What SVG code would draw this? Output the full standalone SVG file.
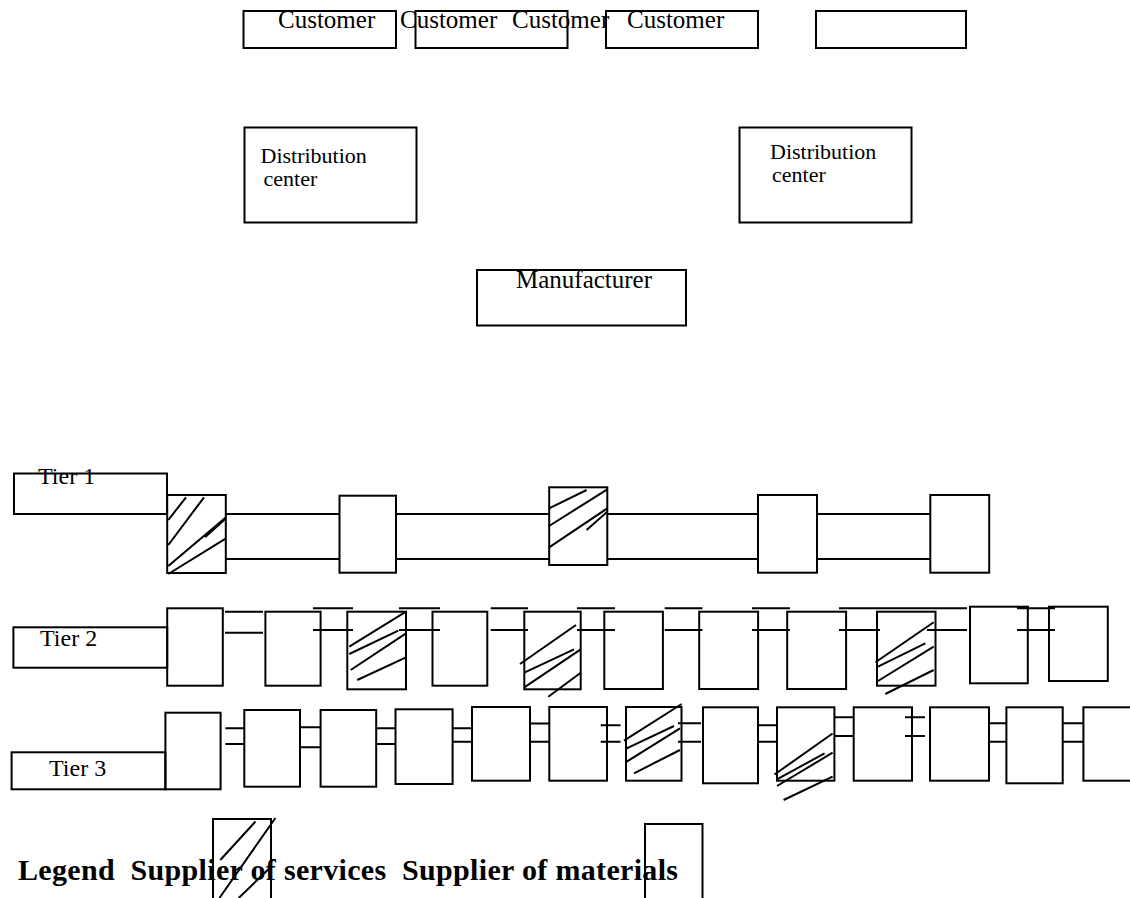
<svg xmlns="http://www.w3.org/2000/svg" width="1130" height="898" viewBox="0 0 1130 898">
<style>
.b{fill:none;stroke:#000;stroke-width:2}
.l{stroke:#000;stroke-width:2;fill:none}
.t{font-family:"Liberation Serif","Times New Roman",serif;font-size:24px;fill:#000}
.lg{font-family:"Liberation Serif","Times New Roman",serif;font-size:30px;font-weight:bold;fill:#000;white-space:pre}
</style>
<rect width="1130" height="898" fill="#fff"/>
<g id="customers">
<g id="customer1"><rect class="b" x="243.5" y="11" width="152.5" height="37"/></g>
<g id="customer2"><rect class="b" x="415.5" y="11" width="152" height="37"/></g>
<g id="customer3"><rect class="b" x="606" y="11" width="152" height="37"/></g>
<g id="customer5"><rect class="b" x="816" y="11" width="150" height="37"/></g>
<text class="t" style="font-size:25px" x="278" y="28">Customer</text>
<text class="t" style="font-size:25px" x="400" y="28">Customer</text>
<text class="t" style="font-size:25px" x="512" y="28">Customer</text>
<text class="t" style="font-size:25px" x="627" y="28">Customer</text>
</g>
<g id="dc1"><rect class="b" x="244.5" y="127.5" width="172" height="95"/>
<text class="t" style="font-size:22px" x="260.5" y="163">Distribution</text>
<text class="t" style="font-size:22px" x="263.5" y="186">center</text></g>
<g id="dc2"><rect class="b" x="739.5" y="127.5" width="172" height="95"/>
<text class="t" style="font-size:22px" x="770" y="159">Distribution</text>
<text class="t" style="font-size:22px" x="772" y="182">center</text></g>
<g id="manufacturer"><rect class="b" x="477" y="270" width="209" height="55.5"/>
<text class="t" style="font-size:25px" x="516" y="288">Manufacturer</text></g>

<g id="connectors">
<path class="l" d="M226 514H339.5M226 559H339.5M396 514H549M396 559H549M607 514H758M607 559H758M817 514H930M817 559H930"/>
<path class="l" d="M225 611.7H263M225 632.7H263M313 608.3H353M313 630H353M399 608.3H440M399 630H440M490.7 608.3H528M490.7 630H528M577 608.3H615M577 630H615M664.7 608.3H702.5M664.7 630H702.5M752 608.3H790M752 630H790M839 608.3H967M839 630H880M927 630H967M1017 608.3H1055M1017 630H1055"/>
<path class="l" style="stroke-width:3" d="M1017 607.5H1029M1049 607.5H1055"/>
<path class="l" d="M225.4 728.3H244.3M225.4 744H244.3M300 727.3H320.6M300 747.3H320.6M376 728.3H395.5M376 744H395.5M452.6 728.3H472M452.6 741.7H472M530 723.5H549M530 741.7H549M600.7 725.3H620.5M600.7 741.7H620.5M678 723.3H701M678 741.7H701M758 725.3H777M758 741.7H777M834.4 717.3H853.7M834.4 736H853.7M905 717.3H925M905 736H925M989 723.3H1006.4M989 741.7H1006.4M1062.7 723.3H1083.4M1062.7 741.7H1083.4"/>
</g>

<g id="tier1">
<g id="tier1-label"><rect class="b" x="14" y="473.5" width="153" height="40.5"/><text class="t" x="38" y="484">Tier 1</text></g>
<g id="t1-n1"><rect class="b" x="167.2" y="495" width="58.6" height="78"/>
<path class="l" d="M168.3 520L186 497.3M168.3 545L204 497.3M168.3 566L226 517.3M205 537.3L225 519.3M168.3 574L226 538.3"/></g>
<g id="t1-n2"><rect class="b" x="339.5" y="495.7" width="56.5" height="77"/></g>
<g id="t1-n3"><rect class="b" x="549.2" y="487.3" width="58.1" height="77.7"/>
<path class="l" d="M549.1 508.3L586.6 490M549.1 526L607.3 489.3M549.1 547.3L607.3 508.3M586.6 530L607.3 511.7"/></g>
<g id="t1-n4"><rect class="b" x="758" y="495" width="59" height="77.7"/></g>
<g id="t1-n5"><rect class="b" x="930.3" y="495" width="58.9" height="77.7"/></g>
</g>

<g id="tier2">
<g id="tier2-label"><rect class="b" x="13.4" y="627.3" width="153.8" height="40.4"/><text class="t" x="40" y="645.7">Tier 2</text></g>
<g id="t2-n1"><rect class="b" x="167.2" y="608.3" width="55.6" height="77.4"/></g>
<g id="t2-n2"><rect class="b" x="265.4" y="611.7" width="55.2" height="74"/></g>
<g id="t2-n3"><rect class="b" x="347.3" y="611.7" width="58.7" height="77.6"/>
<path class="l" d="M349.3 646.7L406 611.7M349.3 654L398.3 630.7M350.7 670L406 633.3M357.3 680L406 657.3"/></g>
<g id="t2-n4"><rect class="b" x="432.5" y="611.7" width="54.8" height="74"/></g>
<g id="t2-n5"><rect class="b" x="524.3" y="611.7" width="56.4" height="77.6"/>
<path class="l" d="M520 664L576 625M524.3 672.7L574 649.3M524.3 687.3L580.7 649.3M548.3 696.7L580.7 672.7"/></g>
<g id="t2-n6"><rect class="b" x="604.3" y="611.7" width="58.6" height="77.3"/></g>
<g id="t2-n7"><rect class="b" x="699.2" y="611.7" width="58.9" height="77.3"/></g>
<g id="t2-n8"><rect class="b" x="787.2" y="611.7" width="58.9" height="77.3"/></g>
<g id="t2-n9"><rect class="b" x="877" y="611.7" width="58.5" height="74"/>
<path class="l" d="M875.5 662.3L933.7 622.3M878 666.7L925.3 643.3M878 681L933.7 646.7M885.3 694L933.7 670"/></g>
<g id="t2-n10"><rect class="b" x="970" y="606.7" width="57.8" height="76.6"/></g>
<g id="t2-n11"><rect class="b" x="1049" y="606.7" width="58.8" height="74.3"/></g>
</g>

<g id="tier3">
<g id="tier3-label"><rect class="b" x="11.6" y="752.3" width="153.8" height="37"/><text class="t" x="49" y="776">Tier 3</text></g>
<g id="t3-n1"><rect class="b" x="165.4" y="712.7" width="55.2" height="76.6"/></g>
<g id="t3-n2"><rect class="b" x="244.3" y="710" width="55.7" height="76.7"/></g>
<g id="t3-n3"><rect class="b" x="320.6" y="710" width="55.6" height="76.7"/></g>
<g id="t3-n4"><rect class="b" x="395.5" y="709.3" width="57.1" height="74.7"/></g>
<g id="t3-n5"><rect class="b" x="472" y="707" width="58" height="73.7"/></g>
<g id="t3-n6"><rect class="b" x="549.3" y="707" width="57.7" height="73.7"/></g>
<g id="t3-n7"><rect class="b" x="626" y="707" width="55.5" height="73.7"/>
<path class="l" d="M624 740.7L681.7 704M626.7 748.3L674 726M626.7 761.7L680 728.3M634 773.3L680 750"/></g>
<g id="t3-n8"><rect class="b" x="703" y="707.3" width="55" height="76"/></g>
<g id="t3-n9"><rect class="b" x="777" y="707.3" width="57.4" height="73.4"/>
<path class="l" d="M774.5 774.5L832.6 733.5M777 779.3L824.6 753.3M777 786L832.6 752.7M783.6 800L832.6 776.7"/></g>
<g id="t3-n10"><rect class="b" x="853.7" y="707.3" width="58.3" height="73.4"/></g>
<g id="t3-n11"><rect class="b" x="930" y="707.3" width="59" height="73.4"/></g>
<g id="t3-n12"><rect class="b" x="1006.4" y="707.3" width="56.3" height="76"/></g>
<g id="t3-n13"><rect class="b" x="1083.4" y="707.3" width="60" height="73.4"/></g>
</g>

<g id="legend">
<g id="legend-services"><rect class="b" x="213" y="819" width="58" height="82"/>
<path class="l" d="M220.3 860L255.5 821.5M219.4 898L275.4 818M238.7 898L270.8 867"/></g>
<g id="legend-materials"><rect class="b" x="645" y="824" width="57.5" height="80"/></g>
<text class="lg" xml:space="preserve" x="18" y="880" textLength="660" lengthAdjust="spacing">Legend  Supplier of services  Supplier of materials</text>
</g>
</svg>
